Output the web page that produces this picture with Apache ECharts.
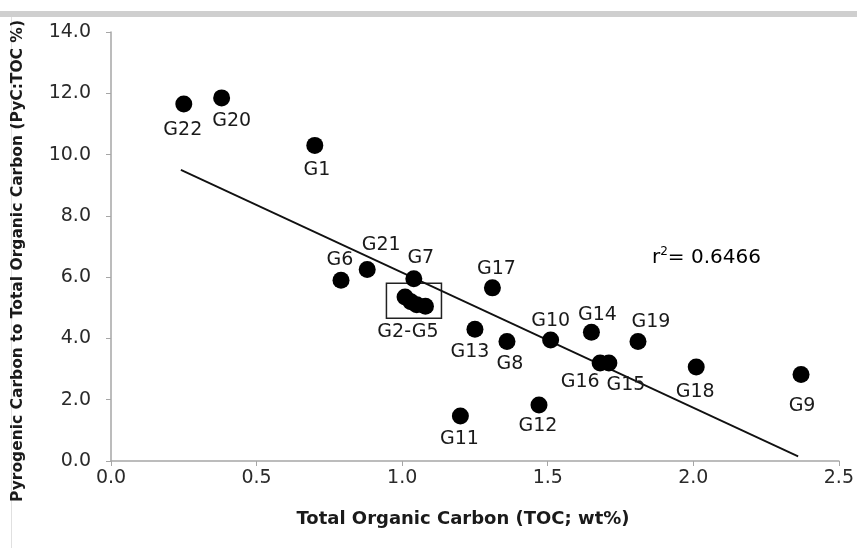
<!DOCTYPE html>
<html lang="en">

<head>
    <meta charset="UTF-8">
    <title>PyC vs TOC</title>
    <script src="https://cdn.jsdelivr.net/npm/echarts@6/dist/echarts.min.js"></script>
    <style>
        html,
        body {
            margin: 0;
            padding: 0;
            background: #fff;
        }
        #main {
            width: 857px;
            height: 548px;
        }
    </style>
</head>

<body>
    <div id="main"></div>
    <script>
        // sample names and values
        var sampleNames = ['G22', 'G20', 'G1', 'G6', 'G21', 'G7', 'G2', 'G3', 'G4', 'G5', 'G17', 'G13', 'G8', 'G10', 'G14', 'G16', 'G15', 'G19', 'G18', 'G9', 'G12', 'G11'];
        var tocValues = [0.25, 0.38, 0.70, 0.79, 0.88, 1.04, 1.01, 1.03, 1.05, 1.08, 1.31, 1.25, 1.36, 1.51, 1.65, 1.68, 1.71, 1.81, 2.01, 2.37, 1.47, 1.20];
        var pycValues = [11.65, 11.85, 10.3, 5.9, 6.25, 5.95, 5.35, 5.2, 5.1, 5.05, 5.65, 4.3, 3.9, 3.95, 4.2, 3.2, 3.2, 3.9, 3.07, 2.82, 1.83, 1.47];
        // regression line end points
        var trendX = [0.24, 2.36];
        var trendY = [9.5, 0.15];
        // box around G2-G5
        var boxX = [0.946, 1.135];
        var boxY = [4.66, 5.8];
        var boxLabel = 'G2-G5';
        var r2Text = '0.6466';
        var xTitle = 'Total Organic Carbon (TOC; wt%)';
        var yTitle = 'Pyrogenic Carbon to Total Organic Carbon (PyC:TOC %)';

        // label placement per sample (offset from point centre)
        var labelOffset = {
            G22: [-1, 26], G20: [10, 23], G1: [2, 25], G6: [-1, -20], G21: [14, -24], G7: [7, -21],
            G17: [4, -19], G13: [-5, 23], G8: [3, 23], G10: [0, -19], G14: [6, -17], G19: [13, -19],
            G16: [-20, 19], G15: [17, 22], G18: [-1, 25], G9: [1, 31], G12: [-1, 21], G11: [-1, 23]
        };

        var points = sampleNames.map(function (n, i) {
            var off = labelOffset[n];
            return {
                name: n,
                value: [tocValues[i], pycValues[i]],
                label: off ? { show: true, position: 'inside', offset: off } : { show: false }
            };
        });

        var myChart = echarts.init(document.getElementById('main'));
        var axisGray = '#a6a6a6';
        var txt = '#1a1a1a';
        var font = 'DejaVu Sans';
        var option = {
            animation: false,
            grid: { left: 111, top: 32, right: 17, bottom: 87 },
            xAxis: {
                type: 'value', min: 0, max: 2.5, interval: 0.5,
                name: xTitle,
                nameLocation: 'middle', nameGap: 49,
                nameTextStyle: { fontFamily: font, fontWeight: 'bold', fontSize: 18, color: txt, padding: [0, 24, 0, 0] },
                axisLine: { lineStyle: { color: axisGray, width: 1.5 } },
                axisTick: { show: true, length: 5, lineStyle: { color: axisGray } },
                axisLabel: { fontFamily: font, fontSize: 19, color: '#2a2a2a', margin: 8,
                    formatter: function (v) { return v.toFixed(1); } },
                splitLine: { show: false }
            },
            yAxis: {
                type: 'value', min: 0, max: 14, interval: 2,
                axisLine: { show: true, lineStyle: { color: axisGray, width: 1.5 } },
                axisTick: { show: true, length: 5, lineStyle: { color: axisGray } },
                axisLabel: { fontFamily: font, fontSize: 19, color: '#2a2a2a', margin: 20,
                    formatter: function (v) { return v.toFixed(1); } },
                splitLine: { show: false }
            },
            series: [{
                type: 'line',
                data: [[trendX[0], trendY[0]], [trendX[1], trendY[1]]],
                showSymbol: false,
                lineStyle: { color: '#111', width: 1.8 },
                z: 1,
                markArea: {
                    silent: true,
                    itemStyle: { color: 'rgba(0,0,0,0)', borderColor: '#222', borderWidth: 1.5 },
                    label: { show: true, position: 'bottom', distance: 4, offset: [-6, 0], color: txt,
                        fontFamily: font, fontSize: 19 },
                    data: [[{ name: boxLabel, coord: [boxX[0], boxY[1]] }, { coord: [boxX[1], boxY[0]] }]]
                }
            }, {
                type: 'scatter',
                data: points,
                symbolSize: 17,
                itemStyle: { color: '#000', opacity: 1 },
                label: { formatter: '{b}', color: txt, opacity: 1, fontFamily: font, fontSize: 19 },
                z: 3
            }],
            graphic: [{
                type: 'rect', left: 0, top: 11, shape: { width: 857, height: 6 },
                style: { fill: '#cfcfcf' }, silent: true
            }, {
                type: 'line', shape: { x1: 11.5, y1: 17, x2: 11.5, y2: 548 },
                style: { stroke: '#e0e0e0', lineWidth: 1 }, silent: true
            }, {
                type: 'text', x: 18, y: 261, rotation: Math.PI / 2,
                style: {
                    text: yTitle, align: 'center', verticalAlign: 'middle',
                    font: 'bold 15.5px "DejaVu Sans"', fill: txt
                }, silent: true
            }, {
                type: 'text', left: 652, top: 246,
                style: {
                    text: '{a|r}{s|2}{a|= ' + r2Text + '}',
                    rich: {
                        a: { fontFamily: font, fontSize: 20, color: txt, verticalAlign: 'bottom', lineHeight: 22 },
                        s: { fontFamily: font, fontSize: 12, color: txt, verticalAlign: 'top', lineHeight: 22, padding: [0, 0, 9, 0] }
                    }
                }
            }]
        };
        myChart.setOption(option);
    </script>
</body>

</html>
